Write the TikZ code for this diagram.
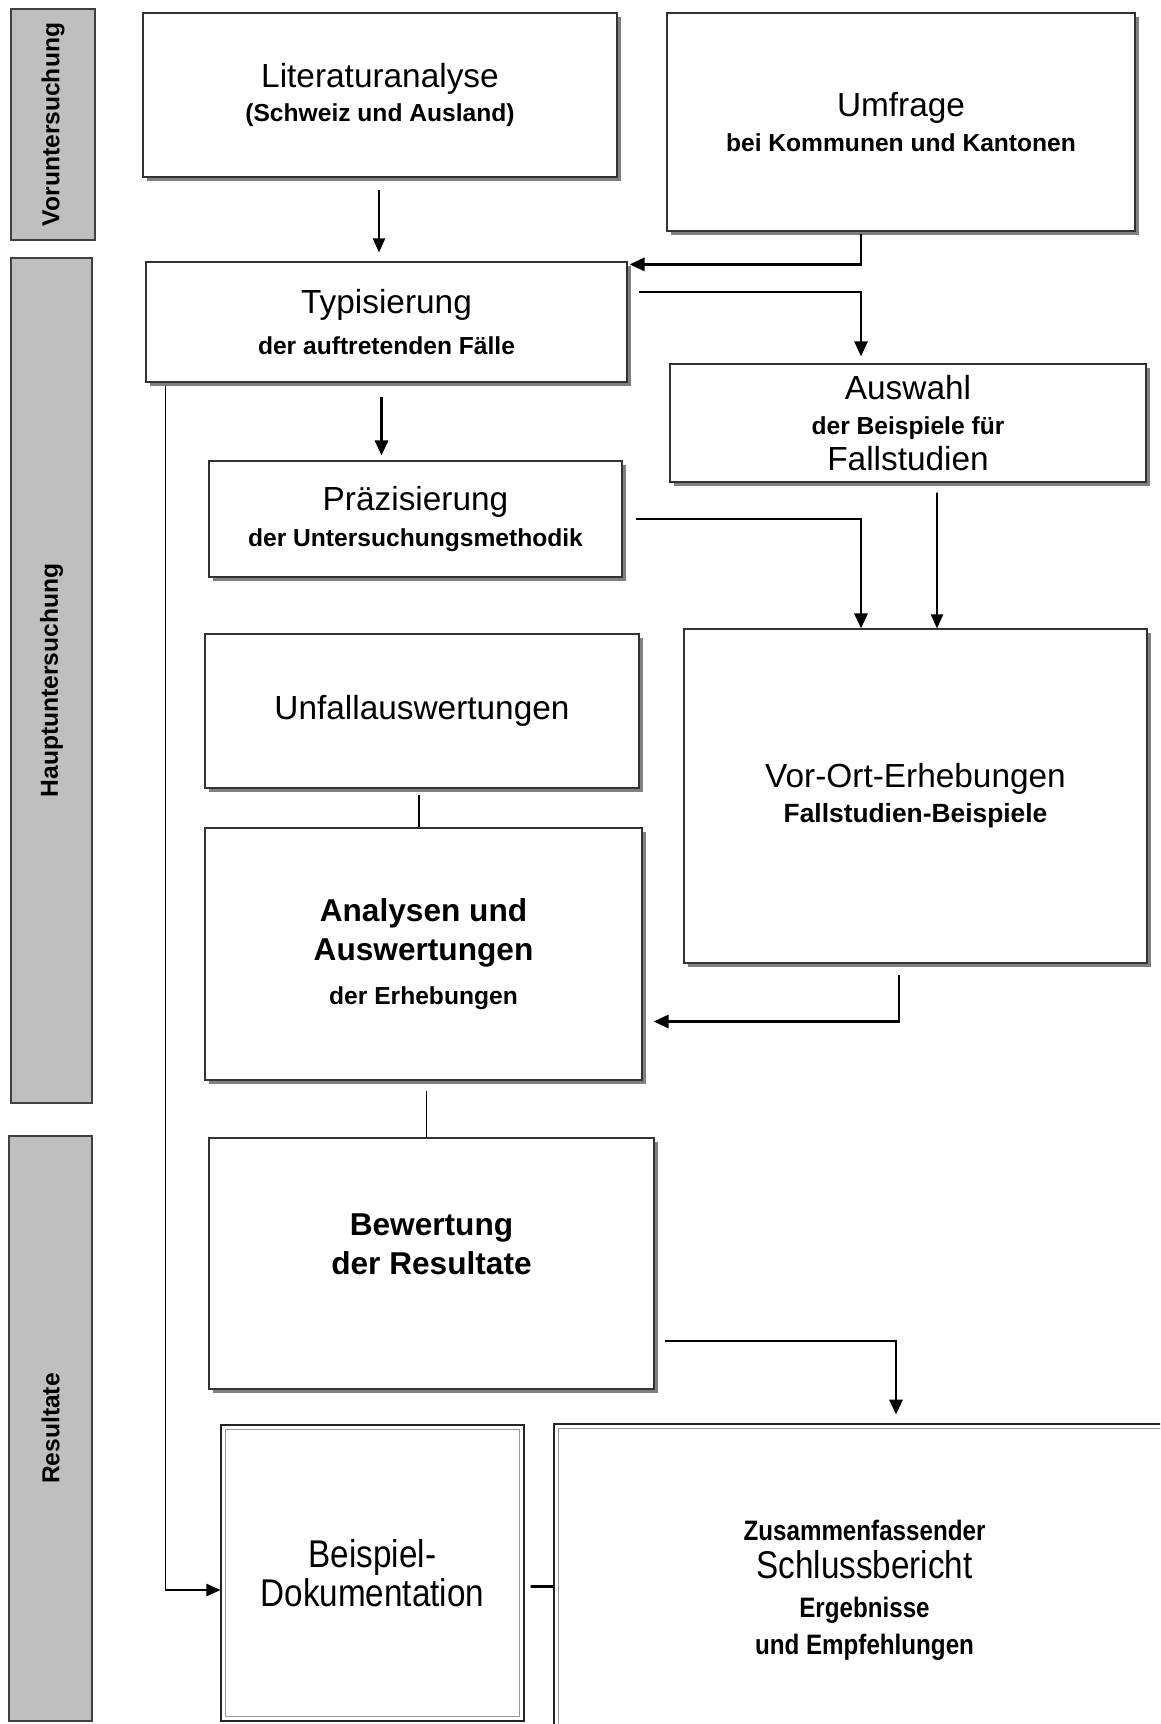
\documentclass[tikz,border=0pt]{standalone}
\usepackage{fontspec}
\setmainfont{Liberation Sans}
\newfontfamily\narrowfont[FakeStretch=0.86]{Liberation Sans}
\usepackage{tikz}
\usetikzlibrary{shapes, arrows.meta, positioning, calc, shadows}
\newcommand{\pxu}{0.02cm}
\newcommand{\hd}[1]{{\fontsize{19}{22}\selectfont\mdseries #1}}

\begin{document}
\begin{tikzpicture}[
    x=\pxu, y=-\pxu,
    phase/.style={draw=black!75, fill=black!25, line width=0.6pt, rotate=90, inner sep=0pt, font=\fontsize{14}{16}\selectfont\bfseries},
    box/.style={draw=black!80, fill=white, line width=0.7pt, inner sep=0pt, align=center, font=\fontsize{14}{20}\selectfont\bfseries,
        drop shadow={shadow xshift=2.3pt, shadow yshift=-2.3pt, fill=black!50, opacity=1}},
    dbox/.style={draw=black!85, fill=white, line width=0.6pt, inner sep=0pt, align=center,
        path picture={\draw[black!40, line width=0.8pt] ([shift={(4.5,4.5)}]path picture bounding box.north west) rectangle ([shift={(-4.5,-4.5)}]path picture bounding box.south east);}},
    conn/.style={line width=1.5pt, -{Triangle[width=7.5pt,length=8.5pt]}},
    thinconn/.style={line width=0.9pt, -{Triangle[width=7pt,length=8pt]}},
    link/.style={line width=0.6pt}
]
    \path[use as bounding box, fill=white] (0,0) rectangle (1160,1724);
    \clip (0,0) rectangle (1160,1724);

    % Phases (left bars)
    \node[phase, minimum width=231*\pxu, minimum height=84*\pxu] (vor) at (53,124.5) {Voruntersuchung};
    \node[phase, minimum width=845*\pxu, minimum height=81*\pxu] (haupt) at (51.5,680.5) {Hauptuntersuchung};
    \node[phase, minimum width=585*\pxu, minimum height=83*\pxu] (res) at (50.5,1428.5) {Resultate};

    % Voruntersuchung
    \node[box, minimum width=474*\pxu, minimum height=164*\pxu] (lit) at (380,95) {\hd{Literaturanalyse}\\[-1pt](Schweiz und Ausland)};
    \node[box, minimum width=468*\pxu, minimum height=218*\pxu] (umf) at (901,122) {\hd{Umfrage}\\bei Kommunen und Kantonen};

    % Hauptuntersuchung
    \node[box, minimum width=481*\pxu, minimum height=120*\pxu] (typ) at (386.5,322) {\hd{Typisierung}\\[3pt]der auftretenden Fälle};
    \node[box, minimum width=476*\pxu, minimum height=118*\pxu] (ausw) at (908,423) {\hd{Auswahl}\\der Beispiele für\\\hd{Fallstudien}};
    \node[box, minimum width=413*\pxu, minimum height=116*\pxu] (praez) at (415.5,519) {\hd{Präzisierung}\\[1pt]der Untersuchungsmethodik};
    \node[box, minimum width=434*\pxu, minimum height=154*\pxu] (unfall) at (422,711) {\hd{Unfallauswertungen}};
    \node[box, minimum width=463*\pxu, minimum height=334*\pxu] (vorort) at (915.5,796) {\hd{Vor-Ort-Erhebungen}\\{\fontsize{15}{20}\selectfont Fallstudien-Beispiele}};
    \node[box, minimum width=437*\pxu, minimum height=252*\pxu, font=\fontsize{18}{22}\selectfont\bfseries] (analysen) at (423.5,954) {Analysen und\\Auswertungen\\[3pt]{\fontsize{14}{16}\selectfont der Erhebungen}};

    % Resultate
    \node[box, minimum width=445*\pxu, minimum height=251*\pxu, font=\fontsize{18}{22}\selectfont\bfseries] (bewert) at (431.5,1263.5) {Bewertung\\der Resultate\\~};
    \node[dbox, minimum width=303*\pxu, minimum height=296*\pxu, font=\narrowfont\fontsize{22}{22}\selectfont] (beisp) at (372.5,1573) {Beispiel-\\Dokumentation};
    \node[dbox, minimum width=621*\pxu, minimum height=332*\pxu, font=\narrowfont\fontsize{16}{21}\selectfont\bfseries] (schluss) at (864.5,1590) {Zusammenfassender\\[1pt]{\fontsize{22}{21}\selectfont\mdseries Schlussbericht}\\[1pt]Ergebnisse\\und Empfehlungen};

    % Connectors
    \draw[thinconn] ($(lit.south)+(-1,12)$) -- ($(typ.north)+(-7.5,-9)$);
    \draw[conn] ($(umf.south)+(-40,2)$) |- ($(typ.north east)+(2,3)$);
    \draw[line width=1.1pt, -{Triangle[width=7.5pt,length=8.5pt]}] ($(typ.east)+(11,-30)$) -| ($(ausw.north)+(-47,-7)$);
    \draw[conn] ($(typ.south)+(-5,14)$) -- ($(praez.north)+(-34,-5)$);
    \draw[conn] ($(praez.east)+(13,0)$) -| ($(vorort.north)+(-54.5,0)$);
    \draw[thinconn] ($(ausw.south)+(29,10)$) -- ($(vorort.north)+(21.5,0)$);
    \draw[link] ($(unfall.south)+(-3,6)$) -- ($(analysen.north)+(-4.5,0)$);
    \draw[conn] ($(vorort.south)+(-16.5,11)$) |- ($(analysen.east)+(11,67.5)$);
    \draw[link] ($(analysen.south)+(3,10)$) -- ($(bewert.north)+(-5,0)$);
    \draw[conn] ($(bewert.east)+(10,77.5)$) -| ($(schluss.north)+(31.5,-9)$);
    \draw[thinconn] ($(typ.south west)+(20,3)$) |- ($(beisp.west)+(0,17)$);
    \draw[line width=1.5pt] ($(beisp.east)+(6,13.5)$) -- ($(schluss.west)+(0,-3.5)$);
\end{tikzpicture}
\end{document}
